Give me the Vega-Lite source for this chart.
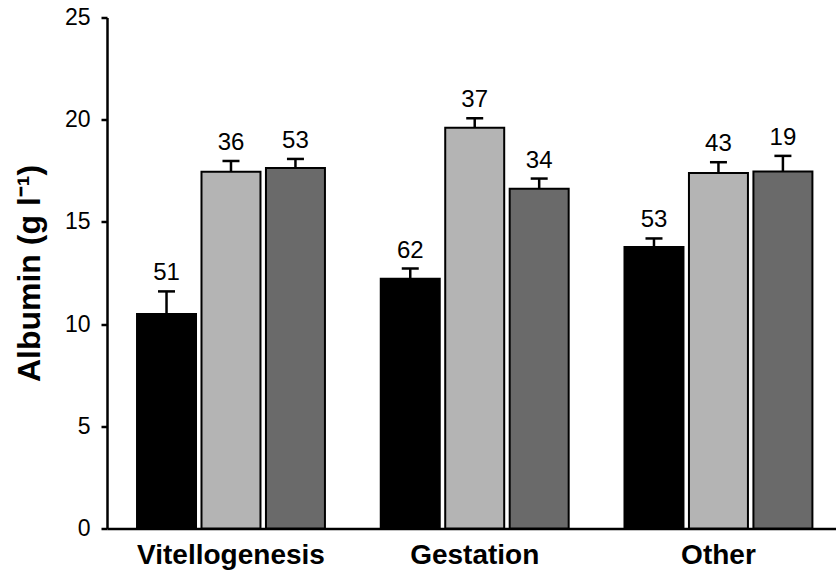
{
  "$schema": "https://vega.github.io/schema/vega-lite/v6.json",
  "width": 729,
  "height": 511,
  "autosize": {"type": "none"},
  "padding": {"left": 107, "top": 17.5, "right": 0, "bottom": 46.5},
  "background": "white",
  "config": {"view": {"stroke": null}, "font": "Liberation Sans"},
  "data": {
    "values": [
      {"group": "Vitellogenesis", "series": "a", "mean": 10.5, "upper": 11.6, "n": "51"},
      {"group": "Vitellogenesis", "series": "b", "mean": 17.45, "upper": 17.98, "n": "36"},
      {"group": "Vitellogenesis", "series": "c", "mean": 17.64, "upper": 18.08, "n": "53"},
      {"group": "Gestation", "series": "a", "mean": 12.22, "upper": 12.72, "n": "62"},
      {"group": "Gestation", "series": "b", "mean": 19.61, "upper": 20.07, "n": "37"},
      {"group": "Gestation", "series": "c", "mean": 16.62, "upper": 17.12, "n": "34"},
      {"group": "Other", "series": "a", "mean": 13.77, "upper": 14.19, "n": "53"},
      {"group": "Other", "series": "b", "mean": 17.39, "upper": 17.92, "n": "43"},
      {"group": "Other", "series": "c", "mean": 17.46, "upper": 18.23, "n": "19"}
    ]
  },
  "encoding": {
    "x": {
      "field": "group",
      "type": "nominal",
      "sort": ["Vitellogenesis", "Gestation", "Other"],
      "scale": {"paddingInner": 0.229, "paddingOuter": 0.11, "align": 0.56},
      "axis": {
        "title": null,
        "labelAngle": 0,
        "labelLimit": 0,
        "labelFont": "Liberation Sans",
        "labelFontSize": 28,
        "labelFontWeight": "bold",
        "labelColor": "black",
        "labelPadding": 13,
        "ticks": false,
        "domainColor": "black",
        "domainWidth": 2.5
      }
    },
    "xOffset": {
      "field": "series",
      "type": "nominal",
      "sort": ["a", "b", "c"],
      "scale": {"paddingInner": 0.085, "paddingOuter": 0}
    }
  },
  "layer": [
    {
      "mark": {"type": "rule", "strokeWidth": 2.5, "color": "black"},
      "encoding": {
        "y": {"field": "mean", "type": "quantitative"},
        "y2": {"field": "upper"}
      }
    },
    {
      "mark": {"type": "tick", "size": 17, "thickness": 2.5, "color": "black", "opacity": 1},
      "encoding": {
        "y": {"field": "upper", "type": "quantitative"}
      }
    },
    {
      "mark": {"type": "bar", "stroke": "black", "strokeWidth": 2},
      "encoding": {
        "y": {
          "field": "mean",
          "type": "quantitative",
          "scale": {"domain": [0, 25], "nice": false},
          "axis": {
            "title": "Albumin (g l⁻¹)",
            "titleFont": "Liberation Sans",
            "titleFontSize": 32,
            "titleFontWeight": "bold",
            "titleColor": "black",
            "titlePadding": 18,
            "values": [0, 5, 10, 15, 20, 25],
            "grid": false,
            "labelFont": "Liberation Sans",
            "labelFontSize": 23,
            "labelColor": "black",
            "labelPadding": 11,
            "tickSize": 6,
            "tickWidth": 2.5,
            "tickColor": "black",
            "domainColor": "black",
            "domainWidth": 2.5
          }
        },
        "color": {
          "field": "series",
          "type": "nominal",
          "scale": {"domain": ["a", "b", "c"], "range": ["#000000", "#b4b4b4", "#6a6a6a"]},
          "legend": null
        }
      }
    },
    {
      "mark": {"type": "text", "dy": -11, "fontSize": 24, "color": "black", "baseline": "alphabetic", "font": "Liberation Sans"},
      "encoding": {
        "y": {"field": "upper", "type": "quantitative"},
        "text": {"field": "n"}
      }
    }
  ]
}
